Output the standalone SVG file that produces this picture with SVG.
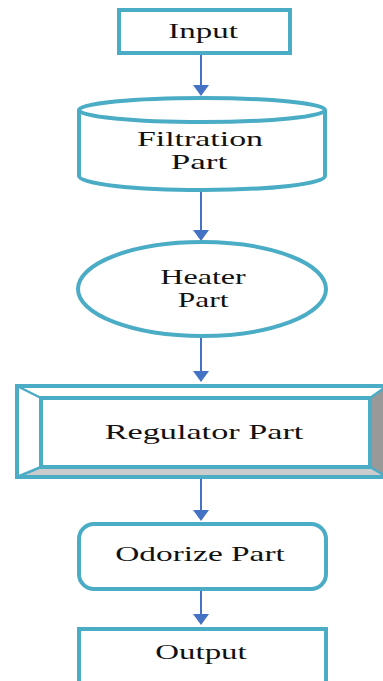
<svg xmlns="http://www.w3.org/2000/svg" width="383" height="681" viewBox="0 0 383 681">
<style>
.sh{fill:#ffffff;stroke:#4bacc6;stroke-width:4}
.t{font-family:"Liberation Serif","Times New Roman",serif;font-size:21px;fill:#111;text-anchor:middle}
.ln{stroke:#4472c4;stroke-width:2;fill:none}
.ah{fill:#4472c4}
</style>
<rect width="383" height="681" fill="#ffffff"/>
<g id="connectors">
<line class="ln" x1="201" y1="55" x2="201" y2="86"/><polygon class="ah" points="193,85 209,85 201,96"/>
<line class="ln" x1="201" y1="190" x2="201" y2="231"/><polygon class="ah" points="193,230 209,230 201,241"/>
<line class="ln" x1="201" y1="337" x2="201" y2="372"/><polygon class="ah" points="193,371 209,371 201,382"/>
<line class="ln" x1="201" y1="478" x2="201" y2="511"/><polygon class="ah" points="193,510 209,510 201,521"/>
<line class="ln" x1="201" y1="590" x2="201" y2="615"/><polygon class="ah" points="193,614 209,614 201,625"/>
</g>
<g id="input">
<rect class="sh" x="119" y="10" width="171" height="43"/>
<text class="t" transform="translate(203,38) scale(1.45,1)" textLength="48" lengthAdjust="spacingAndGlyphs">Input</text>
</g>
<g id="filtration">
<path class="sh" d="M79,110 L79,176 A123,14 0 0 0 325,176 L325,110"/>
<ellipse class="sh" cx="202" cy="110" rx="123" ry="12"/>
<text class="t" transform="translate(200,146) scale(1.45,1)" textLength="87" lengthAdjust="spacingAndGlyphs">Filtration</text>
<text class="t" transform="translate(199,169) scale(1.45,1)" textLength="39" lengthAdjust="spacingAndGlyphs">Part</text>
</g>
<g id="heater">
<ellipse class="sh" cx="202" cy="289" rx="124" ry="47"/>
<text class="t" transform="translate(203,284) scale(1.45,1)" textLength="59" lengthAdjust="spacingAndGlyphs">Heater</text>
<text class="t" transform="translate(203,307) scale(1.45,1)" textLength="35" lengthAdjust="spacingAndGlyphs">Part</text>
</g>
<g id="regulator">
<rect x="17" y="386" width="370" height="91" fill="#ffffff"/>
<polygon points="370,398 387,386 387,477 370,467" fill="#999999"/>
<polygon points="41,467 370,467 387,477 17,477" fill="#cccccc"/>
<rect x="17" y="386" width="370" height="91" fill="none" stroke="#4bacc6" stroke-width="4"/>
<rect x="41" y="398" width="329" height="69" fill="none" stroke="#4bacc6" stroke-width="4"/>
<g stroke="#4bacc6" stroke-width="2.5">
<line x1="17" y1="386" x2="41" y2="398"/>
<line x1="17" y1="477" x2="41" y2="467"/>
<line x1="387" y1="386" x2="370" y2="398"/>
<line x1="387" y1="477" x2="370" y2="467"/>
</g>
<text class="t" transform="translate(204,439) scale(1.45,1)" textLength="137" lengthAdjust="spacingAndGlyphs">Regulator Part</text>
</g>
<g id="odorize">
<rect class="sh" x="79" y="524" width="247" height="65" rx="15"/>
<text class="t" transform="translate(200,561) scale(1.45,1)" textLength="117" lengthAdjust="spacingAndGlyphs">Odorize Part</text>
</g>
<g id="output">
<rect class="sh" x="79" y="629" width="247" height="70"/>
<text class="t" transform="translate(201,659) scale(1.45,1)" textLength="63" lengthAdjust="spacingAndGlyphs">Output</text>
</g>
</svg>
